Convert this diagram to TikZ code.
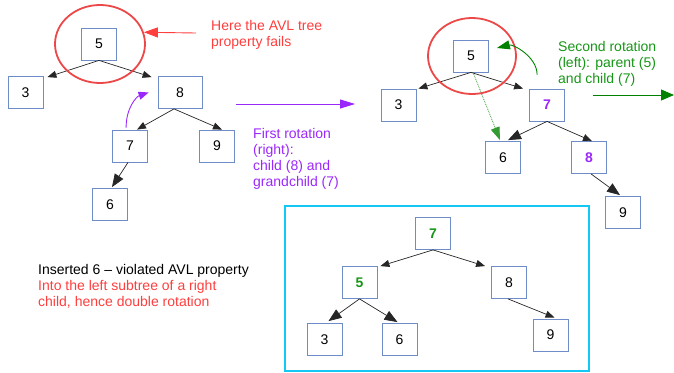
\documentclass[tikz,border=0pt]{standalone}
\usepackage{fontspec}
\setmainfont{Liberation Sans}
\usetikzlibrary{arrows.meta,shapes.geometric}
\definecolor{boxblue}{RGB}{110,140,200}
\definecolor{ringred}{RGB}{236,72,72}
\definecolor{notered}{RGB}{255,62,62}
\definecolor{rotpurple}{RGB}{155,40,250}
\definecolor{rotgreen}{RGB}{22,150,22}
\definecolor{arrowgreen}{RGB}{0,130,0}
\definecolor{framecyan}{RGB}{20,200,245}
\begin{document}
\begin{tikzpicture}[x=1pt,y=-1pt,
  key/.style={draw=boxblue, line width=0.8pt, fill=white, minimum width=35pt,
    minimum height=32pt, inner sep=0pt, font=\fontsize{14}{16}\selectfont},
  edge/.style={draw=black!85, line width=0.7pt, -{Triangle[length=9pt,width=7pt]}},
  bigedge/.style={draw=black!85, line width=0.7pt, -{Triangle[length=13pt,width=10pt]}},
  note/.style={anchor=north west, inner sep=0pt, align=left,
    font=\fontsize{14}{16}\selectfont},
  ring/.style={ellipse, draw=ringred, line width=1.8pt, minimum width=90pt,
    minimum height=78pt, inner sep=0pt},
]
\useasboundingbox (0,0) rectangle (674,372);

% ---------- tree after inserting 6 ----------
\node[key] (L5) at (99,44) {5};
\node[key] (L3) at (25.5,92.5) {3};
\node[key, minimum width=44pt] (L8) at (180,92.5) {8};
\node[key] (L7) at (130,146) {7};
\node[key] (L9) at (217,146) {9};
\node[key] (L6) at (110,204.5) {6};

\draw[edge] (L5.south) -- ([xshift=4pt,yshift=-1pt]L3.north east);
\draw[edge] (L5.south) -- ([xshift=-6pt,yshift=-1pt]L8.north west);
\draw[edge] ([xshift=-6pt]L8.south) -- ([xshift=7pt]L7.north);
\draw[edge] ([xshift=-6pt]L8.south) -- ([xshift=5pt]L9.north);
\draw[bigedge] ([xshift=-2pt]L7.south) -- ([xshift=2pt,yshift=1pt]L6.north);

\node[ring] (R1) at (100,44) {};

% unbalanced node and its note
\node[note, text=notered] (failnote) at (211,20) {Here the AVL tree\\property fails};
\coordinate (failtail) at (196,33);
\draw[notered, line width=0.9pt, -{Triangle[length=14pt,width=10pt]}]
  (failtail) -- (R1.15);

% first rotation
\coordinate (p1a) at ([xshift=14pt,yshift=2pt]L7.north west);
\coordinate (p1b) at ([xshift=-9pt]L8.west);
\draw[rotpurple, line width=0.9pt, -{Triangle[length=10pt,width=8pt]}]
  (p1a) .. controls ([yshift=20pt]p1a) and ([xshift=-12pt,yshift=-4pt]p1b) .. (p1b);
\coordinate (s1a) at (236,104);
\coordinate (s1b) at (355,104);
\draw[rotpurple, line width=1pt, -{Triangle[length=15pt,width=9pt]}] (s1a) -- (s1b);
\node[note, text=rotpurple] (rot1) at (253,128)
  {First rotation\\(right):\\child (8) and\\grandchild (7)};

% ---------- tree after the first rotation ----------
\node[key] (M5) at (471,56) {5};
\node[key] (M3) at (398.5,105) {3};
\node[key, text=rotpurple] (M7) at (547,105) {\textbf{7}};
\node[key] (M6) at (503,157.5) {6};
\node[key, text=rotpurple] (M8) at (589,157.5) {\textbf{8}};
\node[key] (M9) at (623,212.5) {9};

\draw[edge] (M5.south) -- ([xshift=2pt]M3.north east);
\draw[edge] (M5.south) -- ([xshift=-6pt]M7.north west);
\draw[bigedge] (M7.south) -- ([xshift=5pt,yshift=1pt]M6.north);
\draw[edge] (M7.south) -- ([xshift=3pt]M8.north);
\draw[bigedge] ([xshift=2pt]M8.south) -- ([xshift=-3pt,yshift=1pt]M9.north);
\draw[arrowgreen!80!white, densely dotted, line width=0.8pt, -{Triangle[length=13pt,width=9pt]}]
  ([xshift=2pt]M5.south) -- ([xshift=-3pt,yshift=1pt]M6.north);

\node[ring, minimum width=88pt, minimum height=76pt] (R2) at (472,56) {};

% second rotation
\coordinate (g1a) at ([xshift=8pt,yshift=14pt]M7.north west);
\coordinate (g1b) at ([xshift=8pt,yshift=8pt]M5.east);
\draw[arrowgreen, line width=0.9pt, -{Triangle[length=13pt,width=9pt]}]
  (g1a) .. controls ([yshift=18pt]g1a) and ([xshift=16pt,yshift=4pt]g1b) .. (g1b);
\node[note, text=rotgreen] (rot2) at (558,41)
  {Second rotation\\(left): parent (5)\\and child (7)};
\coordinate (s2a) at (593,95);
\coordinate (s2b) at (674,95);
\draw[arrowgreen, line width=1pt, -{Triangle[length=13pt,width=11pt]}] (s2a) -- (s2b);

% ---------- balanced tree after the double rotation ----------
\node[draw=framecyan, line width=2.5pt, minimum width=304pt, minimum height=165pt,
  inner sep=0pt] (frame) at (437,288.5) {};

\node[key, text=rotgreen] (B7) at (433,233.5) {\textbf{7}};
\node[key, text=rotgreen] (B5) at (359.5,282.5) {\textbf{5}};
\node[key] (B8) at (509,282.5) {8};
\node[key] (B3) at (324.5,339.5) {3};
\node[key] (B6) at (399.5,339.5) {6};
\node[key] (B9) at (550.5,335) {9};

\draw[edge] (B7.south) -- ([xshift=3pt]B5.north east);
\draw[edge] (B7.south) -- ([xshift=-6pt]B8.north west);
\draw[bigedge] (B5.south) -- ([xshift=4pt,yshift=2pt]B3.north);
\draw[bigedge] (B5.south) -- ([xshift=-2pt,yshift=1pt]B6.north);
\draw[edge] ([xshift=-1pt]B8.south) -- ([xshift=4pt,yshift=1pt]B9.north);

% summary
\node[note] (summary) at (38,264)
  {Inserted 6 – violated AVL property\\
   \textcolor{notered}{Into the left subtree of a right}\\
   \textcolor{notered}{child, hence double rotation}};
\end{tikzpicture}
\end{document}
